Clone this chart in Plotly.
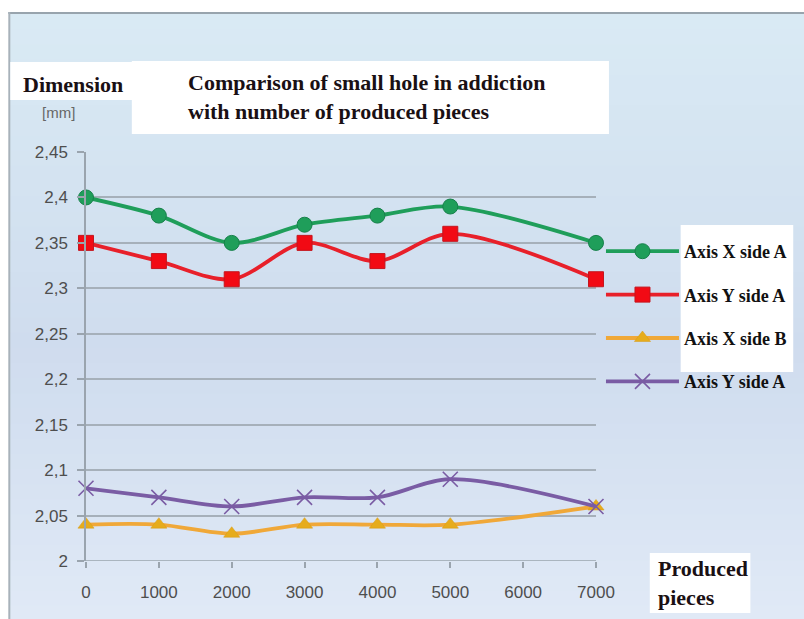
import plotly.graph_objects as go

# ---- data ----
pieces = [0, 1000, 2000, 3000, 4000, 5000, 7000]
x_side_a = [2.40, 2.38, 2.35, 2.37, 2.38, 2.39, 2.35]
y_side_a = [2.35, 2.33, 2.31, 2.35, 2.33, 2.36, 2.31]
x_side_b = [2.04, 2.04, 2.03, 2.04, 2.04, 2.04, 2.06]
y_side_a2 = [2.08, 2.07, 2.06, 2.07, 2.07, 2.09, 2.06]
series_names = ["Axis X side A", "Axis Y side A", "Axis X side B", "Axis Y side A"]

x_tickvals = [0, 1000, 2000, 3000, 4000, 5000, 6000, 7000]
x_ticktext = ["0", "1000", "2000", "3000", "4000", "5000", "6000", "7000"]
y_tickvals = [2.0, 2.05, 2.1, 2.15, 2.2, 2.25, 2.3, 2.35, 2.4, 2.45]
y_ticktext = ["2", "2,05", "2,1", "2,15", "2,2", "2,25", "2,3", "2,35", "2,4", "2,45"]

W, H = 804, 619
L, R, T, B = 86, 598, 152, 561


def px2x(px):
    return (px - L) / (R - L)


def py2y(py):
    return (B - py) / (B - T)


SERIF = "Liberation Serif, Times New Roman, serif"
SANS = "Liberation Sans, Arial, sans-serif"

fig = go.Figure()

styles = [
    dict(color="#1f9e5a", marker=dict(symbol="circle", size=15, color="#1f9e5a",
                                       line=dict(color="#17804a", width=1))),
    dict(color="#e8202a", marker=dict(symbol="square", size=15, color="#f20a14",
                                       line=dict(color="#c4161e", width=1))),
    dict(color="#f0a838", marker=dict(symbol="triangle-up", size=14, color="#e6ac1c",
                                       line=dict(color="#d89a10", width=0.5))),
    dict(color="#7a5ca4", marker=dict(symbol="x-thin", size=15, color="#7a5ca4",
                                       line=dict(color="#7a5ca4", width=1.6))),
]
data = [x_side_a, y_side_a, x_side_b, y_side_a2]

for i, (vals, name, st) in enumerate(zip(data, series_names, styles)):
    fig.add_trace(go.Scatter(
        x=pieces, y=vals, name=name, mode="lines+markers",
        line=dict(color=st["color"], width=3.8, shape="spline", smoothing=0.9),
        marker=st["marker"], cliponaxis=False, legendgroup=f"g{i}",
    ))

shapes = []
shapes.append(dict(type="rect", xref="paper", yref="paper", layer="below",
                   x0=px2x(9), x1=px2x(W + 5), y0=py2y(H + 5), y1=py2y(13),
                   fillcolor="#d6e6f2", line=dict(width=0)))
# vertical gradient bands
top_c = (217, 234, 244)
mid_c = (207, 220, 238)
bot_c = (224, 233, 246)
n = 40
y_start, y_end = 14, H + 2
for k in range(n):
    t = k / (n - 1)
    if t < 0.55:
        u = t / 0.55
        c = [round(top_c[j] + (mid_c[j] - top_c[j]) * u) for j in range(3)]
    else:
        u = (t - 0.55) / 0.45
        c = [round(mid_c[j] + (bot_c[j] - mid_c[j]) * u) for j in range(3)]
    ya = y_start + (y_end - y_start) * k / n
    yb = y_start + (y_end - y_start) * (k + 1) / n + 1
    shapes.append(dict(type="rect", xref="paper", yref="paper", layer="below",
                       x0=px2x(10), x1=px2x(W + 5), y0=py2y(yb), y1=py2y(ya),
                       fillcolor=f"rgb({c[0]},{c[1]},{c[2]})", line=dict(width=0)))
shapes.append(dict(type="line", xref="paper", yref="paper", layer="below",
                   x0=px2x(8), x1=px2x(W + 5), y0=py2y(13), y1=py2y(13),
                   line=dict(color="#98a4ad", width=2)))
shapes.append(dict(type="line", xref="paper", yref="paper", layer="below",
                   x0=px2x(9), x1=px2x(9), y0=py2y(12), y1=py2y(H + 5),
                   line=dict(color="#a8b2ba", width=2)))
# white boxes
shapes.append(dict(type="rect", xref="paper", yref="paper", layer="below",
                   x0=px2x(132), x1=px2x(611), y0=py2y(134), y1=py2y(61),
                   fillcolor="white", line=dict(width=0)))
shapes.append(dict(type="rect", xref="paper", yref="paper", layer="below",
                   x0=px2x(10), x1=px2x(133), y0=py2y(100), y1=py2y(62),
                   fillcolor="white", line=dict(width=0)))
shapes.append(dict(type="rect", xref="paper", yref="paper", layer="below",
                   x0=px2x(683), x1=px2x(796), y0=py2y(372), y1=py2y(225),
                   fillcolor="white", line=dict(width=0)))
shapes.append(dict(type="rect", xref="paper", yref="paper", layer="below",
                   x0=px2x(652), x1=px2x(753), y0=py2y(613), y1=py2y(553),
                   fillcolor="white", line=dict(width=0)))

annotations = [
    dict(text="<b>Comparison of small hole in addiction<br>with number of produced pieces</b>",
         xref="paper", yref="paper", x=px2x(186), y=py2y(97), xanchor="left", yanchor="middle",
         align="left", showarrow=False, font=dict(family=SERIF, size=22, color="#1a1014")),
    dict(text="<b>Dimension</b>", xref="paper", yref="paper", x=px2x(21), y=py2y(85),
         xanchor="left", yanchor="middle", showarrow=False,
         font=dict(family=SERIF, size=22, color="#1a1014")),
    dict(text="[mm]", xref="paper", yref="paper", x=px2x(58), y=py2y(112),
         xanchor="center", yanchor="middle", showarrow=False,
         font=dict(family=SANS, size=15, color="#666666")),
    dict(text="<b>Produced<br>pieces</b>", xref="paper", yref="paper", x=px2x(658), y=py2y(583),
         xanchor="left", yanchor="middle", align="left", showarrow=False,
         font=dict(family=SERIF, size=22, color="#1a1014")),
]

fig.update_layout(
    width=W, height=H,
    margin=dict(l=L, r=W - R, t=T, b=H - B, pad=0),
    paper_bgcolor="white",
    plot_bgcolor="rgba(0,0,0,0)",
    shapes=shapes,
    annotations=annotations,
    showlegend=True,
    legend=dict(x=px2x(603), y=py2y(233), xanchor="left", yanchor="top",
                bgcolor="rgba(0,0,0,0)", tracegroupgap=17, itemwidth=73,
                font=dict(family=SERIF, size=18, color="#111111", weight="bold")),
    xaxis=dict(range=[0, 7000], tickvals=x_tickvals, ticktext=x_ticktext,
               showgrid=False, zeroline=False, showline=False,
               ticks="outside", ticklen=6, tickcolor="#9aa4ae", tickwidth=1.5,
               ticklabelstandoff=10,
               tickfont=dict(family=SANS, size=17, color="#4e4e4e")),
    yaxis=dict(range=[2.0, 2.45], tickvals=y_tickvals, ticktext=y_ticktext,
               showgrid=True, gridcolor="#a6b0ba", gridwidth=1.5,
               zeroline=False, showline=True, linecolor="#9aa4ae", linewidth=1.5,
               ticks="outside", ticklen=7, tickcolor="#9aa4ae", tickwidth=1.5,
               ticklabelstandoff=6,
               tickfont=dict(family=SANS, size=17, color="#4e4e4e")),
)
fig.add_hline(y=2.0, line=dict(color="#9aa4ae", width=1.5), layer="below")

fig.write_html("out.html", config={"displayModeBar": False},
               post_script="document.body.style.margin='0px';")
